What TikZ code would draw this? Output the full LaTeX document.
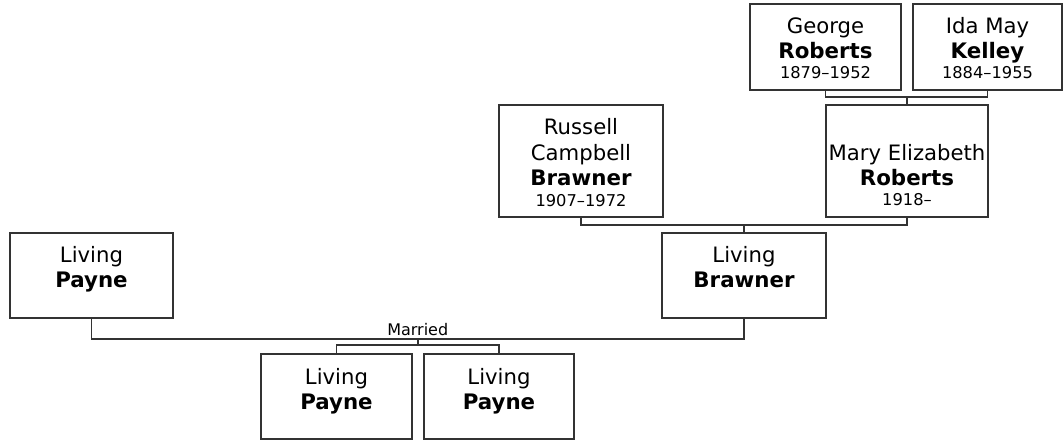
\documentclass[tikz,border=0pt]{standalone}
\usepackage{fontspec}
\setmainfont{DejaVu Sans}
\usetikzlibrary{calc}
\definecolor{linec}{HTML}{333333}
\begin{document}
\begin{tikzpicture}[x=0.75pt,y=-0.75pt,
  pbox/.style={draw=linec, line width=1.2pt, fill=white, anchor=north west, inner sep=0pt, outer sep=0pt},
  conn/.style={draw=linec, line width=1.2pt},
  nm/.style={anchor=base, inner sep=0pt, font=\fontsize{15.9}{18}\selectfont},
  sn/.style={anchor=base, inner sep=0pt, font=\fontsize{16}{18}\selectfont\bfseries},
  dt/.style={anchor=base, inner sep=0pt, font=\fontsize{12.2}{14}\selectfont},
  lbl/.style={anchor=base, inner sep=0pt, font=\fontsize{12}{14}\selectfont}]
\useasboundingbox (0,0) rectangle (1063,440);

% boxes
\node[pbox, minimum width=113.25pt, minimum height=64.5pt] (george) at (750,4) {};
\node[pbox, minimum width=111.75pt, minimum height=64.5pt] (ida) at (913,4) {};
\node[pbox, minimum width=123pt, minimum height=84pt] (russell) at (499,105) {};
\node[pbox, minimum width=121.5pt, minimum height=84pt] (mary) at (826,105) {};
\node[pbox, minimum width=123pt, minimum height=63.75pt] (brawner) at (662,233) {};
\node[pbox, minimum width=122.25pt, minimum height=63.75pt] (payne) at (10,233) {};
\node[pbox, minimum width=113.25pt, minimum height=63.75pt] (child1) at (261,354) {};
\node[pbox, minimum width=112.5pt, minimum height=63.75pt] (child2) at (424,354) {};

% texts
\node[nm] (g1) at ($(george.north)+(0,29)$) {George};
\node[sn] (g2) at ($(george.north)+(0,54)$) {Roberts};
\node[dt] (g3) at ($(george.north)+(0,74)$) {1879–1952};

\node[nm] (i1) at ($(ida.north)+(0,29)$) {Ida May};
\node[sn] (i2) at ($(ida.north)+(0,54)$) {Kelley};
\node[dt] (i3) at ($(ida.north)+(0,74)$) {1884–1955};

\node[nm] (r1) at ($(russell.north)+(0,29)$) {Russell};
\node[nm] (r2) at ($(russell.north)+(0,55)$) {Campbell};
\node[sn] (r3) at ($(russell.north)+(0,80)$) {Brawner};
\node[dt] (r4) at ($(russell.north)+(0,101)$) {1907–1972};

\node[nm] (m1) at ($(mary.north)+(0,55)$) {Mary Elizabeth};
\node[sn] (m2) at ($(mary.north)+(0,80)$) {Roberts};
\node[dt] (m3) at ($(mary.north)+(0,100)$) {1918–};

\node[nm] (b1) at ($(brawner.north)+(0,29)$) {Living};
\node[sn] (b2) at ($(brawner.north)+(0,54)$) {Brawner};

\node[nm] (p1) at ($(payne.north)+(0,29)$) {Living};
\node[sn] (p2) at ($(payne.north)+(0,54)$) {Payne};

\node[nm] (c1a) at ($(child1.north)+(0,30)$) {Living};
\node[sn] (c1b) at ($(child1.north)+(0,55)$) {Payne};

\node[nm] (c2a) at ($(child2.north)+(0,30)$) {Living};
\node[sn] (c2b) at ($(child2.north)+(0,55)$) {Payne};

% connectors
\draw[conn] (george.south) -- ++(0,7) coordinate (gl) -| (ida.south);
\draw[conn] (mary.north) -- (mary.north |- gl);

\draw[conn] (russell.south) -- ++(0,8) coordinate (rl) -| (mary.south);
\draw[conn] (brawner.north) -- (brawner.north |- rl);

\draw[conn] (payne.south) -- ++(0,21) coordinate (pl) -| (brawner.south);
\coordinate (mm) at ($(payne.south)!0.5!(brawner.south)+(0,21)$);
\node[lbl] (married) at ($(mm)+(0,-4)$) {Married};
\draw[conn] (mm) -- ++(0,6) coordinate (cm);
\draw[conn] (child1.north) |- (cm) -| (child2.north);
\end{tikzpicture}
\end{document}
